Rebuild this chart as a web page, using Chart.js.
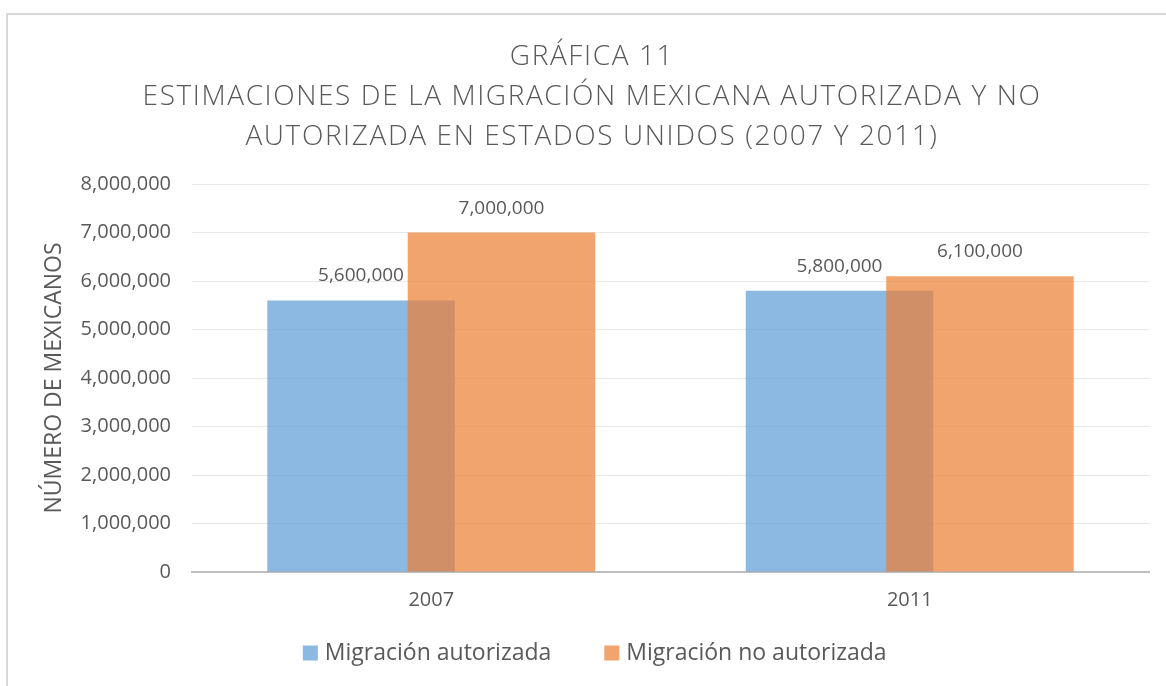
<!DOCTYPE html>
<html>
<head>
<meta charset="utf-8">
<script src="https://cdn.jsdelivr.net/npm/chart.js@4/dist/chart.umd.min.js"></script>
<style>
  html, body { margin: 0; padding: 0; background: #ffffff; }
  #wrap { position: relative; width: 1166px; height: 686px; overflow: hidden; }
  #frame { position: absolute; left: 6px; top: 13px; width: 1200px; height: 700px;
           border-left: 2px solid #D9D9D9; border-top: 2px solid #D9D9D9; box-sizing: border-box; }
  #c { position: absolute; left: 0; top: 0; }
</style>
</head>
<body>
<div id="wrap">
  <div id="frame"></div>
  <canvas id="c" width="1166" height="686"></canvas>
</div>
<script>
const titleLines = [
  'GRÁFICA 11',
  'ESTIMACIONES DE LA MIGRACIÓN MEXICANA AUTORIZADA Y NO',
  'AUTORIZADA EN ESTADOS UNIDOS (2007 Y 2011)'
];
const categories = ['2007', '2011'];
const seriesNames = ['Migración autorizada', 'Migración no autorizada'];
const autorizada = [5600000, 5800000];
const noAutorizada = [7000000, 6100000];
const yAxisTitle = 'NÚMERO DE MEXICANOS';
const yMin = 0, yMax = 8000000, yStep = 1000000;

const FONT = "'Open Sans', 'DejaVu Sans', sans-serif";
const GREY = '#595959';
const LEGEND_PAD = 57.5;
const LEGEND_FONT = 23;
const fmt = v => Number(v).toLocaleString('en-US');

// Draw datasets so that the later series lies on top (as in the original)
const drawOrderPlugin = {
  id: 'drawOrder',
  beforeDatasetsDraw(chart) {
    const metas = chart.getSortedVisibleDatasetMetas();
    const ctx = chart.ctx;
    for (const m of metas) {
      ctx.save();
      m.controller.draw();
      ctx.restore();
    }
    return false;
  }
};

// Title letter spacing and legend placement tweaks
const layoutTweaks = {
  id: 'layoutTweaks',
  afterLayout(chart) {
    const tb = chart.titleBlock;
    if (tb && !tb._spaced) {
      const orig = tb.draw;
      tb.draw = function (...args) {
        const ctx = chart.ctx;
        const prev = ctx.letterSpacing;
        ctx.letterSpacing = '1.6px';
        orig.apply(this, args);
        ctx.letterSpacing = prev || '0px';
      };
      tb._spaced = true;
    }
    const lg = chart.legend;
    if (lg) {
      const centerNow = lg.top + LEGEND_PAD + LEGEND_FONT / 2;
      const dy = 653 - centerNow;
      lg.top += dy; lg.bottom += dy;
      lg.left += 5; lg.right += 5;
    }
  }
};

const valueLabelPlugin = {
  id: 'valueLabels',
  afterDraw(chart) {
    const ctx = chart.ctx;
    ctx.save();
    ctx.font = "19px " + FONT;
    ctx.fillStyle = GREY;
    ctx.textAlign = 'center';
    ctx.textBaseline = 'alphabetic';
    chart.data.datasets.forEach((ds, i) => {
      const meta = chart.getDatasetMeta(i);
      meta.data.forEach((el, j) => {
        ctx.fillText(fmt(ds.data[j]), el.x, el.y - 19);
      });
    });
    ctx.restore();
  }
};

new Chart(document.getElementById('c'), {
  type: 'bar',
  data: {
    labels: categories,
    datasets: [
      { label: seriesNames[0], data: autorizada, backgroundColor: 'rgba(91,155,213,0.7)', borderWidth: 0 },
      { label: seriesNames[1], data: noAutorizada, backgroundColor: 'rgba(237,125,49,0.7)', borderWidth: 0 }
    ]
  },
  options: {
    responsive: false,
    animation: false,
    devicePixelRatio: 1,
    categoryPercentage: 0.587,
    barPercentage: 1.335,
    layout: { padding: { left: 35, right: 17, top: 14, bottom: -16.5 } },
    plugins: {
      title: {
        display: true,
        text: titleLines,
        color: GREY,
        font: { family: FONT, size: 28, weight: '300', lineHeight: '40px' },
        padding: { top: 23, bottom: 27 }
      },
      legend: {
        position: 'bottom',
        labels: {
          color: GREY,
          font: { family: FONT, size: LEGEND_FONT },
          usePointStyle: true,
          pointStyle: 'rect',
          boxWidth: 6,
          boxHeight: 15,
          padding: LEGEND_PAD
        }
      },
      tooltip: { enabled: false }
    },
    scales: {
      x: {
        grid: { display: false, drawTicks: false },
        border: { display: true, color: '#BFBFBF', width: 2 },
        ticks: { color: GREY, font: { family: FONT, size: 20 }, padding: 16.5 },
        afterFit(s) { s.height = 40; }
      },
      y: {
        min: yMin, max: yMax,
        grid: { color: '#E9E9E9', lineWidth: 1, drawTicks: false },
        border: { display: false },
        ticks: { stepSize: yStep, color: GREY, font: { family: FONT, size: 20 }, padding: 21,
                 callback: v => fmt(v) },
        title: { display: true, text: yAxisTitle, color: GREY,
                 font: { family: FONT, size: 23 }, padding: { top: 6, bottom: 0 } },
        afterFit(s) { s.width = 157; }
      }
    }
  },
  plugins: [drawOrderPlugin, layoutTweaks, valueLabelPlugin]
});
</script>
</body>
</html>
